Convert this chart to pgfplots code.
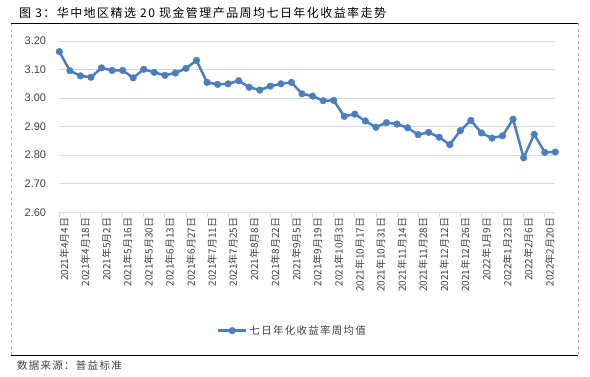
\documentclass[border=0pt]{standalone}
\usepackage{fontspec}
\usepackage{pgfplots}
\pgfplotsset{compat=1.18}
\setmainfont{Liberation Sans}
\newfontfamily\cjk{Noto Sans CJK SC}
\newfontfamily\cjkwide{Noto Sans CJK SC}[LetterSpace=12]
\definecolor{lineblue}{HTML}{4A7EC0}
\definecolor{gridgray}{HTML}{D9D9D9}
\definecolor{txt}{HTML}{404040}
\begin{document}
\begin{tikzpicture}[x=1bp,y=1bp]
\path[use as bounding box] (0,0) rectangle (590,376);
% frame
\draw[gray!60, dashed, line width=0.6bp] (11,352.7) -- (11,20.3);
\draw[gray!60, dashed, line width=0.6bp] (578,352.7) -- (578,20.3);
\draw[black, line width=1.3bp] (11,352.7) -- (578,352.7);
\draw[black, line width=1.3bp] (11,20.3) -- (578,20.3);
\node[anchor=west, inner sep=0pt, font=\cjkwide\fontsize{12bp}{14bp}\selectfont] at (19,363.3) {图 3：华中地区精选 20 现金管理产品周均七日年化收益率走势};
\node[anchor=west, inner sep=0pt, font=\cjkwide\fontsize{10.5bp}{12bp}\selectfont, text=txt] at (17,10) {数据来源：普益标准};
\begin{axis}[
  at={(59.3bp,163.7bp)}, anchor=south west,
  width=496bp, height=171.3bp, scale only axis,
  xmin=0, xmax=47, ymin=2.6, ymax=3.2,
  clip=false,
  axis x line*=bottom, axis y line*=left,
  x axis line style={draw=gridgray, line width=0.75bp},
  y axis line style={draw=none},
  ytick={2.6,2.7,2.8,2.9,3.0,3.1,3.2},
  ymajorgrids, grid style={gridgray, line width=0.75bp},
  ytick style={draw=none},
  xtick={0,2,...,46},
  xtick style={draw=gridgray, line width=0.75bp},
  tick align=outside, major tick length=5bp,
  xticklabels={2021年4月4日,2021年4月18日,2021年5月2日,2021年5月16日,2021年5月30日,2021年6月13日,2021年6月27日,2021年7月11日,2021年7月25日,2021年8月8日,2021年8月22日,2021年9月5日,2021年9月19日,2021年10月3日,2021年10月17日,2021年10月31日,2021年11月14日,2021年11月28日,2021年12月12日,2021年12月26日,2022年1月9日,2022年1月23日,2022年2月6日,2022年2月20日},
  xticklabel style={rotate=90, anchor=east, inner sep=0pt, font=\cjk\fontsize{10bp}{12bp}\selectfont, text=txt, yshift=-5bp},
  yticklabel style={anchor=east, inner sep=0pt, xshift=-8bp, font=\fontsize{11bp}{13bp}\selectfont, text=txt, /pgf/number format/fixed, /pgf/number format/precision=2, /pgf/number format/fixed zerofill, /pgf/number format/assume math mode=true},
  legend style={at={(0.470,-0.691)}, anchor=center, draw=none, fill=none, font=\cjkwide\fontsize{10.5bp}{12bp}\selectfont, text=txt},
  legend image code/.code={\draw[mark repeat=2, mark phase=2, #1] plot coordinates {(0bp,0bp) (14bp,0bp) (28bp,0bp)};},
]
\addplot[color=lineblue, line width=2.5bp, mark=*, mark size=3.3bp, mark options={fill=lineblue, draw=lineblue, line width=0.5bp}] coordinates {
(0,3.163) (1,3.096) (2,3.078) (3,3.073) (4,3.106) (5,3.097) (6,3.097) (7,3.071) (8,3.101) (9,3.090) (10,3.080) (11,3.088) (12,3.104) (13,3.132)
(14,3.055) (15,3.048) (16,3.050) (17,3.061) (18,3.038) (19,3.028) (20,3.042) (21,3.050) (22,3.055) (23,3.015) (24,3.007)
(25,2.991) (26,2.992) (27,2.936) (28,2.944) (29,2.920) (30,2.898) (31,2.914) (32,2.909) (33,2.896) (34,2.872) (35,2.880) (36,2.863) (37,2.837) (38,2.886) (39,2.922) (40,2.878) (41,2.860) (42,2.868) (43,2.926) (44,2.791) (45,2.873) (46,2.810) (47,2.811)
};
\addlegendentry{七日年化收益率周均值}
\end{axis}
\end{tikzpicture}
\end{document}
